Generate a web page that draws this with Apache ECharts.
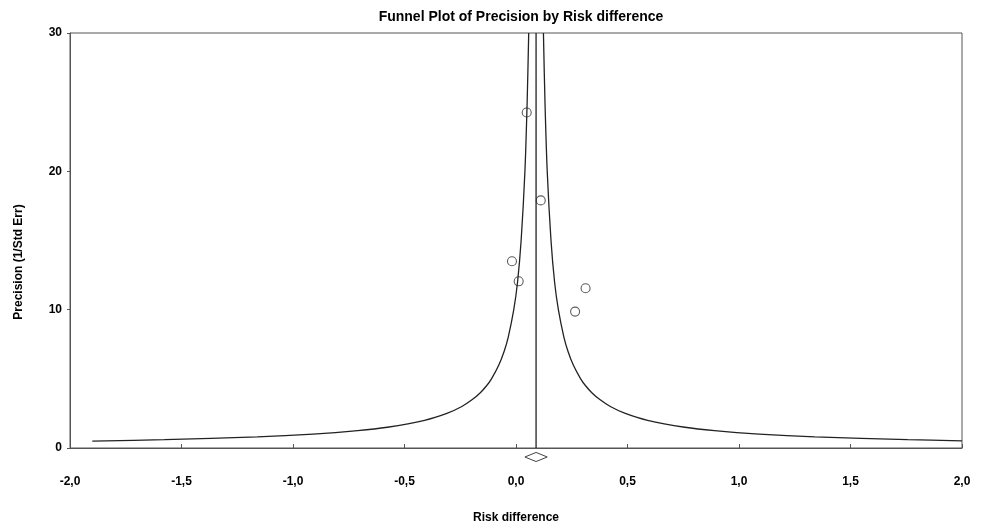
<!DOCTYPE html>
<html>
<head>
<meta charset="utf-8">
<script src="https://cdn.jsdelivr.net/npm/echarts@6/dist/echarts.min.js"></script>
<style>
html,body{margin:0;padding:0;background:#fff;}
#chart{width:981px;height:529px;}
</style>
</head>
<body>
<div id="chart"></div>
<script>
// Funnel boundary: x = risk difference, p = precision
const leftX  = [-1.90, -1.577, -1.16, -0.91, -0.71, -0.577, -0.41, -0.31, -0.243, -0.196, -0.16, -0.132, -0.11, -0.077, -0.053, -0.035, -0.010, 0.007, 0.023, 0.040, 0.050, 0.057];
const leftP  = [0.50, 0.60, 0.80, 1.00, 1.25, 1.50, 2.00, 2.50, 3.00, 3.50, 4.00, 4.50, 5.00, 6.00, 7.00, 8.00, 10.0, 12.0, 15.0, 20.0, 25.0, 30.0];
const rightX = [0.123, 0.130, 0.140, 0.157, 0.173, 0.190, 0.215, 0.233, 0.257, 0.290, 0.312, 0.340, 0.376, 0.423, 0.490, 0.590, 0.757, 0.890, 1.090, 1.340, 1.757, 2.000];
const rightP = [30.0, 25.0, 20.0, 15.0, 12.0, 10.0, 8.00, 7.00, 6.00, 5.00, 4.50, 4.00, 3.50, 3.00, 2.50, 2.00, 1.50, 1.25, 1.00, 0.80, 0.60, 0.52];
// Studies
const studyX = [0.048, 0.111, -0.018, 0.012, 0.312, 0.265];
const studyP = [24.25, 17.9, 13.5, 12.05, 11.55, 9.86];
// Summary effect and its interval
const summaryEffect = 0.09;
const summaryLow = 0.04;
const summaryHigh = 0.14;
// Axis ticks
const xTicks = [-2.0, -1.5, -1.0, -0.5, 0.0, 0.5, 1.0, 1.5, 2.0];
const yTicks = [0, 10, 20, 30];

const zip = (a, b) => a.map((v, i) => [v, b[i]]);
const lineColor = '#222';
const axisColor = '#555';
const font = 'Liberation Sans, Arial, sans-serif';

const dY = -0.65, dH = 0.33;
const diamond = [
  [summaryLow, dY], [summaryEffect, dY + dH], [summaryHigh, dY],
  [summaryEffect, dY - dH], [summaryLow, dY]
];

const chart = echarts.init(document.getElementById('chart'));
chart.setOption({
  animation: false,
  backgroundColor: '#fff',
  title: {
    text: 'Funnel Plot of Precision by Risk difference',
    left: 516, top: 5, textAlign: 'center',
    textStyle: {fontFamily: font, fontSize: 14, fontWeight: 'bold', color: '#000'}
  },
  grid: {left: 70, right: 19, top: 33, bottom: 77, show: true, borderColor: axisColor, borderWidth: 1},
  xAxis: {
    type: 'value', min: xTicks[0], max: xTicks[xTicks.length - 1], interval: 0.5,
    name: 'Risk difference', nameLocation: 'middle', nameGap: 64,
    nameTextStyle: {fontFamily: font, fontSize: 12, fontWeight: 'bold', color: '#000'},
    axisLine: {show: true, onZero: false, lineStyle: {color: axisColor, width: 1}},
    axisTick: {show: true, inside: true, length: 4, lineStyle: {color: axisColor}},
    axisLabel: {margin: 28, fontFamily: font, fontSize: 12, fontWeight: 'bold', color: '#000',
      formatter: v => v.toFixed(1).replace('.', ',')},
    splitLine: {show: false}
  },
  yAxis: {
    type: 'value', min: yTicks[0], max: yTicks[yTicks.length - 1], interval: 10,
    name: 'Precision (1/Std Err)', nameLocation: 'middle', nameGap: 45,
    nameTextStyle: {fontFamily: font, fontSize: 12, fontWeight: 'bold', color: '#000', padding: [0, 43, 0, 0]},
    axisLine: {show: true, onZero: false, lineStyle: {color: axisColor, width: 1}},
    axisTick: {show: true, inside: false, length: 3, lineStyle: {color: axisColor}},
    axisLabel: {margin: 8, fontFamily: font, fontSize: 12, fontWeight: 'bold', color: '#000'},
    splitLine: {show: false}
  },
  series: [
    {type: 'line', data: zip(leftX, leftP), smooth: 0.3, showSymbol: false, symbol: 'none',
      lineStyle: {color: lineColor, width: 1.3}},
    {type: 'line', data: zip(rightX, rightP), smooth: 0.3, showSymbol: false, symbol: 'none',
      lineStyle: {color: lineColor, width: 1.3}},
    {type: 'line', data: [[summaryEffect, 0], [summaryEffect, 30]], showSymbol: false, symbol: 'none',
      lineStyle: {color: lineColor, width: 1.3}},
    {type: 'line', data: diamond, showSymbol: false, symbol: 'none', clip: false,
      lineStyle: {color: '#444', width: 1}},
    {type: 'scatter', data: zip(studyX, studyP), symbol: 'circle', symbolSize: 9,
      itemStyle: {color: 'rgba(255,255,255,0)', borderColor: '#333', borderWidth: 1.1}}
  ]
});
</script>
</body>
</html>
